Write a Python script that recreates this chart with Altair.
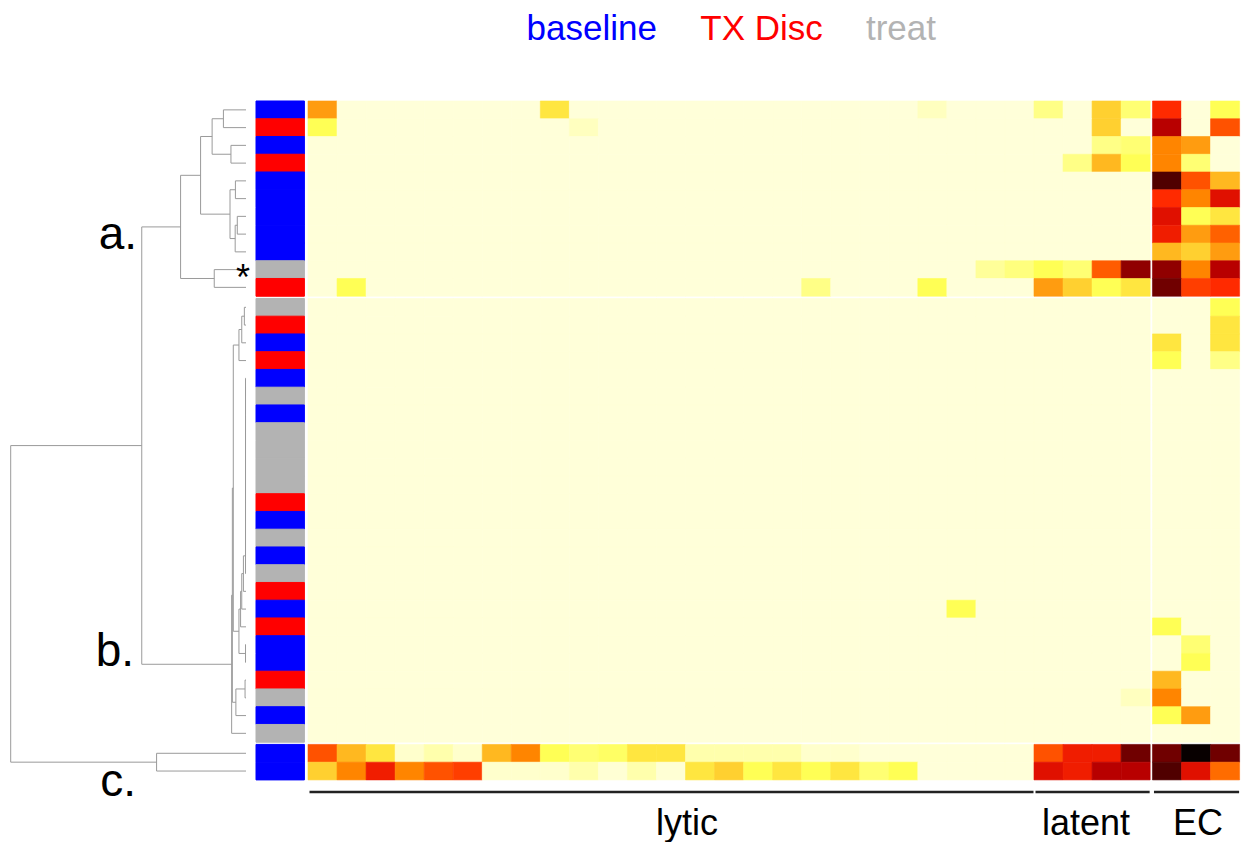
import altair as alt
import pandas as pd

# ---------------- data ----------------
# sample status of each heatmap row (top to bottom)
row_status = (
    ["baseline", "TX Disc", "baseline", "TX Disc", "baseline", "baseline",
     "baseline", "baseline", "baseline", "treat", "TX Disc"]
    + ["treat", "TX Disc", "baseline", "TX Disc", "baseline", "treat", "baseline",
       "treat", "treat", "treat", "treat", "TX Disc", "baseline", "treat",
       "baseline", "treat", "TX Disc", "baseline", "TX Disc", "baseline",
       "baseline", "TX Disc", "treat", "baseline", "treat"]
    + ["baseline", "baseline"]
)
row_cluster = ["a"] * 11 + ["b"] * 25 + ["c"] * 2
col_groups = ["lytic"] * 25 + ["latent"] * 4 + ["EC"] * 3

# non-background cells of clusters a and b: row, column, intensity level
hot_row = [0, 0, 0, 0, 0, 0, 0, 0,
           1, 1, 1, 1, 1,
           2, 2, 2, 2,
           3, 3, 3, 3, 3,
           4, 4, 4,
           5, 5, 5,
           6, 6, 6,
           7, 7, 7,
           8, 8, 8,
           9, 9, 9, 9, 9, 9, 9, 9, 9,
           10, 10, 10, 10, 10, 10, 10, 10, 10, 10,
           11, 12, 13, 13, 14, 14, 28, 29, 30, 31, 32, 33, 33, 34, 34]
hot_col = [0, 8, 21, 25, 27, 28, 29, 31,
           0, 9, 27, 29, 31,
           27, 28, 29, 30,
           26, 27, 28, 29, 30,
           29, 30, 31,
           29, 30, 31,
           29, 30, 31,
           29, 30, 31,
           29, 30, 31,
           23, 24, 25, 26, 27, 28, 29, 30, 31,
           1, 17, 21, 25, 26, 27, 28, 29, 30, 31,
           31, 31, 29, 31, 29, 31, 22, 29, 30, 30, 29, 28, 29, 29, 30]
hot_level = [8, 5, 1, 2.5, 6, 3, 11, 4,
             4, 1, 6, 13, 10,
             2.5, 3, 9, 8,
             2.5, 7, 4, 9, 3,
             16, 10, 7,
             11, 9, 12,
             12, 4, 5,
             11.5, 8, 9.7,
             7, 6, 8,
             2, 2.7, 4, 3, 9.8, 14, 14, 9, 13,
             4, 2.5, 4, 8, 6, 4, 5, 15, 10.5, 11,
             4, 5, 5, 5, 4, 2.5, 4, 4, 3, 4, 7, 1, 9, 4, 8]

# cluster c rows (all 32 columns)
c_row1 = [10, 7, 5, 0.5, 1.5, 0.5, 7, 9, 4, 3, 3.5, 5, 5, 1.5, 1.5, 1.5, 1.5,
          0.5, 0.5, 0, 0, 0, 0, 0, 0, 10, 11.5, 11.5, 15, 15, 17, 15]
c_row2 = [6, 9, 11.5, 9, 10, 10.5, 0.5, 0.5, 0.5, 1.5, 0.2, 1.5, 0.2, 5, 6, 4,
          5, 4, 5, 3, 4, 0, 0, 0, 0, 12, 11.5, 13, 13, 16, 12, 9.5]

# heat palette stops (intensity level -> colour)
levels = list(range(18))
heat_colors = ["#FFFFD9", "#FFFFBF", "#FFFF99", "#FFFF73", "#FFFF55", "#FFE640",
               "#FFD030", "#FFB820", "#FF9C10", "#FF8500", "#FF5200", "#FF2A00",
               "#E01000", "#B80000", "#900000", "#700000", "#500000", "#080000"]

status_names = ["baseline", "TX Disc", "treat"]
status_colors = ["#0000FF", "#FF0000", "#B3B3B3"]

# dendrogram merges: (node, left child, right child, height); ints are rows
merges = [
    ("a12", 0, 1, 0.096), ("a34", 2, 3, 0.064), ("a1a", "a12", "a34", 0.144),
    ("a56", 4, 5, 0.045), ("a78", 6, 7, 0.037), ("a789", "a78", 8, 0.046),
    ("a1b", "a56", "a789", 0.068), ("a1", "a1a", "a1b", 0.193),
    ("a2", 9, 10, 0.135), ("A", "a1", "a2", 0.278),
    ("t12", 11, 12, 0.007), ("t123", "t12", 13, 0.018), ("T", "t123", 14, 0.030),
    ("k1", 15, 16, 0.002), ("k2", "k1", 17, 0.002), ("k3", "k2", 18, 0.002),
    ("k4", "k3", 19, 0.002), ("k5", "k4", 20, 0.002), ("k6", "k5", 21, 0.002),
    ("k7", "k6", 22, 0.002), ("k8", "k7", 23, 0.002), ("k9", "k8", 24, 0.002),
    ("k10", "k9", 25, 0.002), ("k11", "k10", 26, 0.002), ("k12", "k11", 27, 0.011),
    ("k13", "k12", 28, 0.018), ("K", "k13", 29, 0.023),
    ("n2021", 30, 31, 0.002), ("N1", "K", "n2021", 0.030),
    ("Bt", "T", "N1", 0.054),
    ("n2223", 32, 33, 0.004), ("N2", "n2223", 34, 0.043),
    ("R1", "Bt", "N2", 0.058), ("B", "R1", 35, 0.061),
    ("C", 36, 37, 0.380),
    ("AB", "A", "B", 0.443), ("root", "AB", "C", 1.0),
]

# ---------------- layout helpers ----------------
GAP_R = 0.124
GAP_C = 0.08
clu_idx = {"a": 0, "b": 1, "c": 2}
n_rows = len(row_status)
n_cols = len(col_groups)
row_top = [r + GAP_R * clu_idx[row_cluster[r]] for r in range(n_rows)]
col_left = [c + (GAP_C if col_groups[c] == "EC" else 0.0) for c in range(n_cols)]

grid = [[0.0] * n_cols for _ in range(n_rows)]
for r, c, v in zip(hot_row, hot_col, hot_level):
    grid[r][c] = v
grid[36] = list(c_row1)
grid[37] = list(c_row2)

heat_df = pd.DataFrame([
    {"x0": col_left[c], "x1": col_left[c] + 1, "y0": row_top[r], "y1": row_top[r] + 1,
     "level": grid[r][c]}
    for r in range(n_rows) for c in range(n_cols)
])

side_df = pd.DataFrame({
    "y0": row_top, "y1": [t + 1 for t in row_top], "status": row_status
})

# dendrogram segments
nodes = {}
def pos(ch):
    if isinstance(ch, int):
        return row_top[ch] + 0.5, 0.0
    return nodes[ch]
segs = []
for name, l, r, h in merges:
    yl, hl = pos(l)
    yr, hr = pos(r)
    segs.append({"h0": h, "h1": h, "y0": yl, "y1": yr})
    segs.append({"h0": hl, "h1": h, "y0": yl, "y1": yl})
    segs.append({"h0": hr, "h1": h, "y0": yr, "y1": yr})
    nodes[name] = ((yl + yr) / 2, h)
seg_df = pd.DataFrame(segs)

grp_rows = []
for g in ["lytic", "latent", "EC"]:
    cs = [c for c in range(n_cols) if col_groups[c] == g]
    s, e = col_left[cs[0]], col_left[cs[-1]] + 1
    grp_rows.append({"group": g, "start": s, "end": e, "mid": (s + e) / 2})
grp_df = pd.DataFrame(grp_rows)

# ---------------- scales ----------------
H = 828
W_D, W_S, W_H = 247.3, 51.4, 931.6
Y = alt.Scale(domain=[-5.239, 41.408], reverse=True, nice=False, zero=False)
XD = alt.Scale(domain=[-0.03952, 1.01147], reverse=True, nice=False, zero=False)
XH = alt.Scale(domain=[0, n_cols + GAP_C], nice=False, zero=False)
FONT = "Liberation Sans"

# ---------------- dendrogram panel ----------------
dend_lines = alt.Chart(seg_df).mark_rule(color="#9a9a9a", strokeWidth=1).encode(
    x=alt.X("h0:Q", scale=XD, axis=None), x2="h1:Q",
    y=alt.Y("y0:Q", scale=Y, axis=None), y2="y1:Q",
)
lab_a = alt.Chart(pd.DataFrame({"t": ["a."]})).mark_text(
    font=FONT, fontSize=46, align="right", baseline="alphabetic", color="black"
).encode(text="t:N", x=alt.value(129), y=alt.value(241))
lab_b = alt.Chart(pd.DataFrame({"t": ["b."]})).mark_text(
    font=FONT, fontSize=46, align="right", baseline="alphabetic", color="black"
).encode(text="t:N", x=alt.value(126), y=alt.value(658))
lab_c = alt.Chart(pd.DataFrame({"t": ["c."]})).mark_text(
    font=FONT, fontSize=46, align="right", baseline="alphabetic", color="black"
).encode(text="t:N", x=alt.value(128), y=alt.value(788))
star = alt.Chart(pd.DataFrame({"t": ["*"]})).mark_text(
    font=FONT, fontSize=36, align="center", baseline="alphabetic", color="black"
).encode(text="t:N", x=alt.value(235), y=alt.value(282))
dendro = alt.layer(dend_lines, lab_a, lab_b, lab_c, star).properties(width=W_D, height=H)

# ---------------- sidebar panel ----------------
side = alt.Chart(side_df).mark_rect(strokeWidth=1).encode(
    x=alt.value(0), x2=alt.value(48.4),
    y=alt.Y("y0:Q", scale=Y, axis=None), y2="y1:Q",
    color=alt.Color("status:N", scale=alt.Scale(domain=status_names, range=status_colors), legend=None),
    stroke=alt.Stroke("status:N", scale=alt.Scale(domain=status_names, range=status_colors), legend=None),
).properties(width=W_S, height=H)

# ---------------- heatmap panel ----------------
heat_scale = alt.Scale(domain=levels, range=heat_colors, interpolate="rgb")
heat = alt.Chart(heat_df).mark_rect(strokeWidth=0.6).encode(
    x=alt.X("x0:Q", scale=XH, axis=None), x2="x1:Q",
    y=alt.Y("y0:Q", scale=Y, axis=None), y2="y1:Q",
    color=alt.Color("level:Q", scale=heat_scale, legend=None),
    stroke=alt.Stroke("level:Q", scale=heat_scale, legend=None),
)
brackets = alt.Chart(grp_df).mark_rule(color="#222222", strokeWidth=2.5, xOffset=1.5, x2Offset=-0.5).encode(
    x=alt.X("start:Q", scale=XH, axis=None), x2="end:Q", y=alt.value(784),
)
grp_layers = []
for g, dx in [("lytic", 16), ("latent", -6), ("EC", 2)]:
    grp_layers.append(
        alt.Chart(grp_df).transform_filter(alt.datum.group == g).mark_text(
            font=FONT, fontSize=36, align="center", baseline="alphabetic", color="black", dx=dx
        ).encode(x=alt.X("mid:Q", scale=XH, axis=None), y=alt.value(827), text="group:N")
    )
legend_layers = []
for name, colr, lx in zip(status_names, status_colors, [283.8, 453.6, 593.0]):
    legend_layers.append(
        alt.Chart(pd.DataFrame({"t": [name]})).mark_text(
            font=FONT, fontSize=35, align="center", baseline="alphabetic", color=colr
        ).encode(text="t:N", x=alt.value(lx), y=alt.value(32))
    )
heatmap = alt.layer(heat, brackets, *grp_layers, *legend_layers).properties(width=W_H, height=H)

chart = alt.hconcat(dendro, side, heatmap, spacing=0, bounds="flush").properties(
    padding=0
).configure_view(stroke=None)

chart.save("out.html", embed_options={"renderer": "svg", "actions": False})
